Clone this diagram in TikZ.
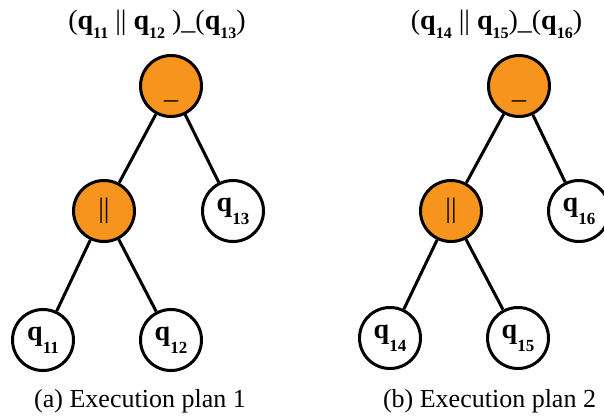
\documentclass[tikz,border=0pt]{standalone}
\usepackage{fontspec}
\setmainfont{Liberation Serif}
\newcommand{\qnode}[1]{\textbf{q}\raisebox{-13pt}{\fontsize{17}{17}\selectfont\textbf{#1}}}
\newcommand{\qtitle}[1]{\textbf{q}\raisebox{-9pt}{\fontsize{16}{16}\selectfont\textbf{#1}}}
\definecolor{oporange}{RGB}{247,148,29}
\begin{document}
\begin{tikzpicture}[x=1pt,y=-1pt,
  tn/.style={circle,draw=black,line width=3pt,minimum size=61pt,inner sep=0pt,font=\fontsize{28}{28}\selectfont},
  opn/.style={tn,fill=oporange},
  leaf/.style={tn,fill=white},
  link/.style={line width=3pt},
  ttl/.style={anchor=base,inner sep=0pt,font=\fontsize{28}{28}\selectfont},
  captext/.style={anchor=base,inner sep=0pt,font=\fontsize{26}{26}\selectfont}]
\useasboundingbox (0,0) rectangle (604,416);
% left tree
\node[ttl] (t1) at (157,29) {(\qtitle{11} \textbar\textbar\ \qtitle{12} )\_(\qtitle{13})};
\node[opn] (r1) at (171,86) {\raisebox{-12pt}[0pt][0pt]{\_}};
\node[opn] (p1) at (104,211) {\textbar\textbar};
\node[leaf] (q13) at (233,211) {\qnode{13}};
\node[leaf] (q11) at (43,340) {\qnode{11}};
\node[leaf] (q12) at (171,340) {\qnode{12}};
\draw[link] (r1) -- (p1);
\draw[link] (r1) -- (q13);
\draw[link] (p1) -- (q11);
\draw[link] (p1) -- (q12);
\node[captext] (c1) at (140,407) {(a) Execution plan 1};
% right tree
\node[ttl] (t2) at (496.5,29) {(\qtitle{14} \textbar\textbar\ \qtitle{15})\_(\qtitle{16})};
\node[opn] (r2) at (519,86) {\raisebox{-12pt}[0pt][0pt]{\_}};
\node[opn] (p2) at (451,211) {\textbar\textbar};
\node[leaf] (q16) at (579,211) {\qnode{16}};
\node[leaf] (q14) at (390,338) {\qnode{14}};
\node[leaf] (q15) at (518,338) {\qnode{15}};
\draw[link] (r2) -- (p2);
\draw[link] (r2) -- (q16);
\draw[link] (p2) -- (q14);
\draw[link] (p2) -- (q15);
\node[captext] (c2) at (489.5,407) {(b) Execution plan 2};
\end{tikzpicture}
\end{document}
